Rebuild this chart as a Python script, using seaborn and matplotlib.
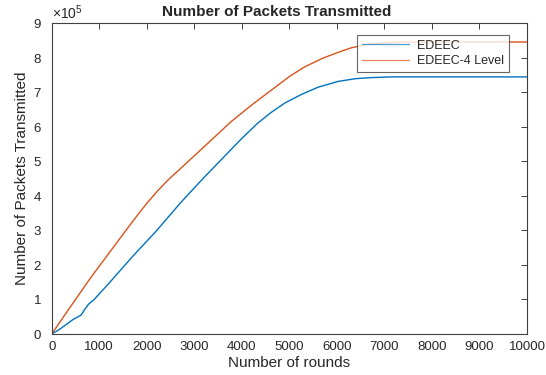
import numpy as np
import pandas as pd
import matplotlib
matplotlib.use("Agg")
import matplotlib.pyplot as plt
import seaborn as sns
from matplotlib.ticker import ScalarFormatter

# ---- data ----
edeec_rounds = [0, 150, 300, 450, 620, 700, 780, 880, 1200, 1725, 2200, 2712, 3150,
                3556, 4000, 4334, 4615, 4900, 5250, 5600, 6025, 6400, 6730, 7150, 10000]
edeec_packets = [0, 12000, 27000, 42000, 55000, 72000, 87000, 98000, 146000, 228000,
                 298000, 380000, 445000, 503000, 566000, 610000, 641000, 668000, 693000,
                 714000, 731000, 739000, 742000, 744000, 744000]

edeec4_rounds = [0, 400, 810, 1200, 1514, 1850, 2000, 2220, 2450, 2712, 3200, 3770, 4200,
                 4615, 5000, 5320, 5700, 6025, 6300, 6624, 7000, 7400, 10000]
edeec4_packets = [0, 80000, 161000, 233000, 291000, 352000, 378000, 413000, 446000, 479000,
                  541000, 614000, 662000, 705000, 745000, 773000, 798000, 815000, 828000,
                  838000, 843000, 845000, 845000]

series_names = ["EDEEC", "EDEEC-4 Level"]
x_ticks = list(range(0, 10001, 1000))
y_ticks = [i * 100000 for i in range(0, 10)]

df = pd.concat([
    pd.DataFrame({"rounds": edeec_rounds, "packets": edeec_packets, "series": series_names[0]}),
    pd.DataFrame({"rounds": edeec4_rounds, "packets": edeec4_packets, "series": series_names[1]}),
])

sns.set_style("white")
plt.rcParams["font.family"] = ["Liberation Sans", "DejaVu Sans"]
plt.rcParams["mathtext.fontset"] = "custom"
plt.rcParams["mathtext.rm"] = "Liberation Sans"
plt.rcParams["mathtext.it"] = "Liberation Sans:italic"

fig = plt.figure(figsize=(5.46, 3.75), dpi=100)
ax = fig.add_axes([51.7 / 546, (375 - 334) / 375, 475.3 / 546, 311 / 375])

palette = {"EDEEC": "#0072BD", "EDEEC-4 Level": "#D95319"}
sns.lineplot(data=df, x="rounds", y="packets", hue="series", palette=palette,
             linewidth=1.0, ax=ax, sort=True, estimator=None)

ax.set_xlim(0, 10000)
ax.set_ylim(0, 900000)
ax.set_xticks(x_ticks)
ax.set_yticks(y_ticks)

fmt = ScalarFormatter(useMathText=True)
fmt.set_powerlimits((5, 5))
ax.yaxis.set_major_formatter(fmt)
ax.yaxis.get_offset_text().set_fontsize(10)
ax.yaxis.get_offset_text().set_color("#404040")

ax.tick_params(direction="in", length=4, width=0.7, top=True, right=True,
               labelsize=9.5, colors="#404040", labelcolor="#262626")
ax.tick_params(axis="y", pad=7)
ax.tick_params(axis="x", pad=5)
for s in ax.spines.values():
    s.set_color("#404040")
    s.set_linewidth(0.8)

ax.set_title("Number of Packets Transmitted", fontsize=11, fontweight="bold", pad=5,
             x=0.474)
ax.set_xlabel("Number of rounds", fontsize=11, color="#262626", labelpad=2)
ax.set_ylabel("Number of Packets Transmitted", fontsize=11, color="#262626", labelpad=3)

leg = ax.legend(loc="upper right", bbox_to_anchor=(0.962, 0.962), frameon=True,
                fancybox=False, fontsize=9, handlelength=3.8, borderpad=0.4,
                labelspacing=0.25, handletextpad=0.6, borderaxespad=0)
leg.get_frame().set_edgecolor("#404040")
leg.get_frame().set_linewidth(0.8)
for line in leg.get_lines():
    line.set_linewidth(0.9)
    line.set_alpha(0.7)

fig.savefig("out.png", dpi=100)
